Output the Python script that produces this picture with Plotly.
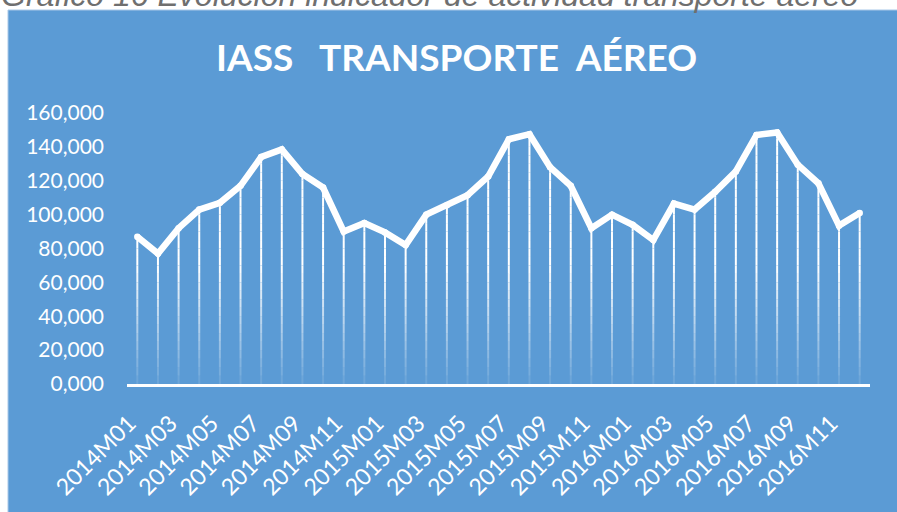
import plotly.graph_objects as go

months = ["2014M01", "2014M02", "2014M03", "2014M04", "2014M05", "2014M06",
          "2014M07", "2014M08", "2014M09", "2014M10", "2014M11", "2014M12",
          "2015M01", "2015M02", "2015M03", "2015M04", "2015M05", "2015M06",
          "2015M07", "2015M08", "2015M09", "2015M10", "2015M11", "2015M12",
          "2016M01", "2016M02", "2016M03", "2016M04", "2016M05", "2016M06",
          "2016M07", "2016M08", "2016M09", "2016M10", "2016M11", "2016M12"]
iass = [87000, 77000, 92000, 103000, 107000, 117000, 134000, 138500, 124000, 116000, 90000, 95000,
        89500, 82000, 100000, 105500, 111500, 122500, 144500, 147500, 128000, 117000, 92000, 100000,
        94000, 85000, 106500, 103000, 113500, 125500, 147000, 148500, 129500, 118500, 93500, 101000]
ytick_vals = [0, 20000, 40000, 60000, 80000, 100000, 120000, 140000, 160000]
ytick_text = ["0,000", "20,000", "40,000", "60,000", "80,000", "100,000", "120,000", "140,000", "160,000"]
xtick_vals = months[::2]

title_text = "IASS   TRANSPORTE  AÉREO"
caption_text = "Gráfico 16 Evolución indicador de actividad transporte aéreo"

BLUE = "#5B9BD5"
W, H = 897, 512
ML, MR, MT, MB = 127, 27, 113, 128
PW, PH = W - ML - MR, H - MT - MB


def px_x(p):
    return (p - ML) / PW


def px_y(p):
    return (H - MB - p) / PH


fig = go.Figure()

# drop lines with fading gradient toward the axis
band = 5000
fade_top = 70000
n_bands = 32
for b in range(n_bands):
    lo, hi = b * band, (b + 1) * band
    xs, ys = [], []
    for m, v in zip(months, iass):
        if v > lo:
            xs += [m, m, None]
            ys += [lo, min(hi, v), None]
    if not xs:
        continue
    mid = (lo + hi) / 2
    alpha = 0.08 + 0.92 * min(1.0, mid / fade_top)
    fig.add_trace(go.Scatter(x=xs, y=ys, mode="lines",
                             line=dict(color=f"rgba(255,255,255,{alpha:.3f})", width=2),
                             hoverinfo="skip", showlegend=False))

fig.add_trace(go.Scatter(x=months, y=iass, mode="lines+markers",
                         line=dict(color="white", width=6.5),
                         marker=dict(color="white", size=6.5),
                         showlegend=False))

fig.update_layout(
    width=W, height=H,
    margin=dict(l=ML, r=MR, t=MT, b=MB),
    paper_bgcolor="white",
    plot_bgcolor=BLUE,
    font=dict(family="Lato", color="white", size=21),
    shapes=[dict(type="rect", xref="paper", yref="paper", layer="below",
                 x0=px_x(8), x1=px_x(W + 5), y0=px_y(H + 5), y1=px_y(10),
                 fillcolor=BLUE, line=dict(color="#A9C8E8", width=1))],
    annotations=[
        dict(text=f"<b>{title_text}</b>", xref="paper", yref="paper",
             x=px_x(456), y=px_y(57), xanchor="center", yanchor="middle",
             showarrow=False, font=dict(family="Lato", size=37, color="white")),
        dict(text=caption_text, xref="paper", yref="paper",
             x=px_x(-1), y=px_y(15), xanchor="left", yanchor="bottom",
             showarrow=False,
             font=dict(family="Liberation Sans", size=32, color="#6F6F6F", style="italic")),
    ],
)

fig.update_xaxes(type="category", categoryorder="array", categoryarray=months,
                 range=[-0.5, len(months) - 0.5],
                 tickvals=xtick_vals, ticktext=xtick_vals, tickangle=-45,
                 showgrid=False, zeroline=False, showline=True,
                 linecolor="white", linewidth=2.5, ticks="",
                 ticklabelstandoff=14, ticklabelshift=-8,
                 tickfont=dict(family="Lato", size=23, color="white"))
fig.update_yaxes(range=[0, 160000], tickvals=ytick_vals, ticktext=ytick_text,
                 showgrid=False, zeroline=False, showline=False, ticks="",
                 ticklabelstandoff=22,
                 tickfont=dict(family="Lato", size=21, color="white"))

fig.write_html("out.html", config={"displayModeBar": False},
               post_script="document.body.style.margin='0';document.body.style.overflow='hidden';")
